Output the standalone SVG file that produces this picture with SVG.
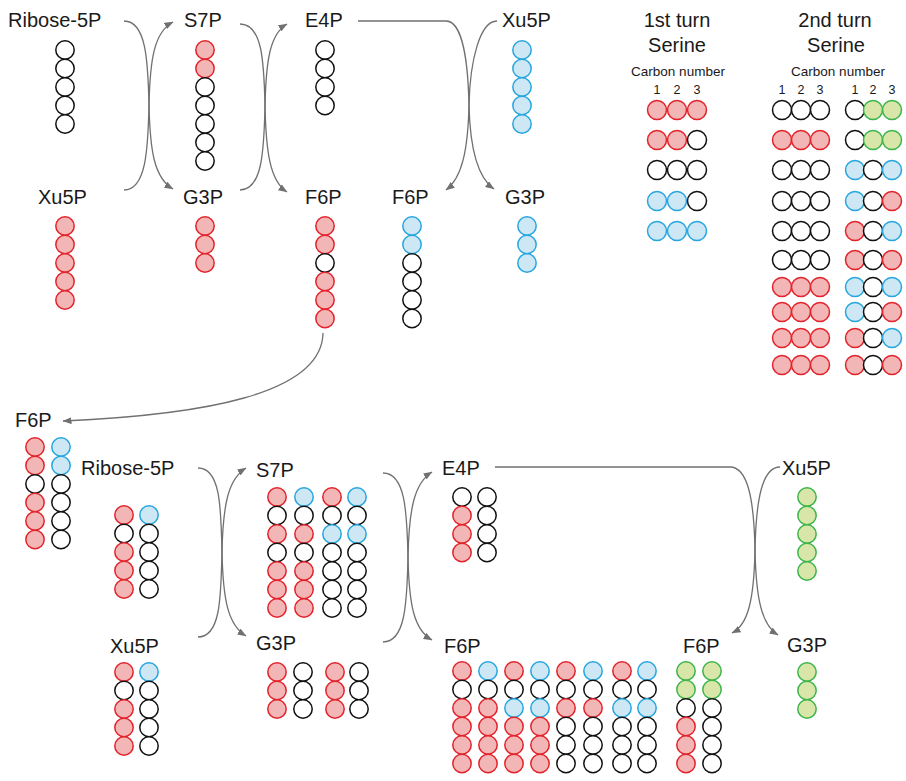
<svg xmlns="http://www.w3.org/2000/svg" xmlns:xlink="http://www.w3.org/1999/xlink" width="906" height="781" viewBox="0 0 906 781">
  <defs>
    <style>
      text { font-family: "Liberation Sans", Arial, sans-serif; fill: #1a1a1a; }
      .lbl { font-size: 20px; }
      .ttl { font-size: 20px; text-anchor: middle; }
      .sub { font-size: 13.5px; text-anchor: middle; }
      .num { font-size: 12.5px; text-anchor: middle; }
      circle { stroke-width: 1.5; }
      .w { fill: #ffffff; stroke: #111111; }
      .r { fill: #f3b6b6; stroke: #e3232b; }
      .b { fill: #cde8f4; stroke: #27a6df; }
      .g { fill: #d8e6a9; stroke: #3db54a; }
      .arr { fill: none; stroke: #707070; stroke-width: 1.3; marker-end: url(#head); }
    </style>
    <marker id="head" viewBox="0 0 9 7" refX="8.5" refY="3.5" markerWidth="9" markerHeight="7" markerUnits="userSpaceOnUse" orient="auto">
      <path d="M0,0 L9,3.5 L0,7 z" fill="#707070"/>
    </marker>
  </defs>
  <rect width="906" height="781" fill="#ffffff"/>

  <!-- reaction arrows -->
  <g id="connectors">
    <!-- first turn: Ribose-5P + Xu5P -> S7P + G3P -->
    <path class="arr" d="M124,21 C146,21 148,60 149,105 C150,150 154,178 173,189"/>
    <path class="arr" d="M124,190 C146,190 148,150 149,105 C150,60 154,32 173,22"/>
    <!-- S7P + G3P -> E4P + F6P -->
    <path class="arr" d="M240,24 C262,24 264,60 265,106 C266,152 270,181 287,192"/>
    <path class="arr" d="M240,190 C262,190 264,152 265,106 C266,60 270,34 287,24"/>
    <!-- E4P + Xu5P -> F6P + G3P -->
    <path class="arr" d="M358,21 H446 C462,21 468,60 469,105 C470,150 478,178 494,189"/>
    <path class="arr" d="M497,21 C480,21 470,60 469,105 C468,150 462,178 446,190"/>
    <!-- F6P recycled to second turn -->
    <path class="arr" d="M323,333 C322,395 200,415 63,421"/>
    <!-- second turn -->
    <path class="arr" d="M198,468 C220,468 221,505 222,552 C223,600 228,625 246,636"/>
    <path class="arr" d="M198,637 C220,637 221,600 222,552 C223,505 228,479 246,468"/>
    <path class="arr" d="M383,473 C405,473 407,510 408,557 C409,605 414,630 432,640"/>
    <path class="arr" d="M383,642 C405,642 407,605 408,557 C409,510 414,483 432,472"/>
    <path class="arr" d="M495,467 H730 C748,467 754,500 755,550 C756,600 762,625 778,635"/>
    <path class="arr" d="M780,467 C762,467 756,500 755,550 C754,600 748,625 732,633"/>
  </g>

  <!-- ===== first turn ===== -->
  <g id="ribose5p-a">
    <text class="lbl" x="8" y="27">Ribose-5P</text>
    <circle class="w" cx="65" cy="50" r="9.2"/>
    <circle class="w" cx="65" cy="68.5" r="9.2"/>
    <circle class="w" cx="65" cy="87" r="9.2"/>
    <circle class="w" cx="65" cy="105.5" r="9.2"/>
    <circle class="w" cx="65" cy="124" r="9.2"/>
  </g>
  <g id="s7p-a">
    <text class="lbl" x="184" y="27">S7P</text>
    <circle class="r" cx="205" cy="50" r="9.2"/>
    <circle class="r" cx="205" cy="68.5" r="9.2"/>
    <circle class="w" cx="205" cy="87" r="9.2"/>
    <circle class="w" cx="205" cy="105.5" r="9.2"/>
    <circle class="w" cx="205" cy="124" r="9.2"/>
    <circle class="w" cx="205" cy="142.5" r="9.2"/>
    <circle class="w" cx="205" cy="161" r="9.2"/>
  </g>
  <g id="e4p-a">
    <text class="lbl" x="305" y="27">E4P</text>
    <circle class="w" cx="325" cy="50" r="9.2"/>
    <circle class="w" cx="325" cy="68.5" r="9.2"/>
    <circle class="w" cx="325" cy="87" r="9.2"/>
    <circle class="w" cx="325" cy="105.5" r="9.2"/>
  </g>
  <g id="xu5p-b">
    <text class="lbl" x="502" y="27">Xu5P</text>
    <circle class="b" cx="522" cy="50" r="9.2"/>
    <circle class="b" cx="522" cy="68.5" r="9.2"/>
    <circle class="b" cx="522" cy="87" r="9.2"/>
    <circle class="b" cx="522" cy="105.5" r="9.2"/>
    <circle class="b" cx="522" cy="124" r="9.2"/>
  </g>
  <g id="xu5p-a">
    <text class="lbl" x="38" y="204">Xu5P</text>
    <circle class="r" cx="65" cy="226" r="9.2"/>
    <circle class="r" cx="65" cy="244.5" r="9.2"/>
    <circle class="r" cx="65" cy="263" r="9.2"/>
    <circle class="r" cx="65" cy="281.5" r="9.2"/>
    <circle class="r" cx="65" cy="300" r="9.2"/>
  </g>
  <g id="g3p-a">
    <text class="lbl" x="183" y="204">G3P</text>
    <circle class="r" cx="205" cy="226" r="9.2"/>
    <circle class="r" cx="205" cy="244.5" r="9.2"/>
    <circle class="r" cx="205" cy="263" r="9.2"/>
  </g>
  <g id="f6p-a">
    <text class="lbl" x="305" y="204">F6P</text>
    <circle class="r" cx="325" cy="226" r="9.2"/>
    <circle class="r" cx="325" cy="244.5" r="9.2"/>
    <circle class="w" cx="325" cy="263" r="9.2"/>
    <circle class="r" cx="325" cy="281.5" r="9.2"/>
    <circle class="r" cx="325" cy="300" r="9.2"/>
    <circle class="r" cx="325" cy="318.5" r="9.2"/>
  </g>
  <g id="f6p-b">
    <text class="lbl" x="392" y="204">F6P</text>
    <circle class="b" cx="412" cy="226" r="9.2"/>
    <circle class="b" cx="412" cy="244.5" r="9.2"/>
    <circle class="w" cx="412" cy="263" r="9.2"/>
    <circle class="w" cx="412" cy="281.5" r="9.2"/>
    <circle class="w" cx="412" cy="300" r="9.2"/>
    <circle class="w" cx="412" cy="318.5" r="9.2"/>
  </g>
  <g id="g3p-b">
    <text class="lbl" x="505" y="204">G3P</text>
    <circle class="b" cx="527" cy="226" r="9.2"/>
    <circle class="b" cx="527" cy="244.5" r="9.2"/>
    <circle class="b" cx="527" cy="263" r="9.2"/>
  </g>

  <!-- ===== serine labelling tables ===== -->
  <g id="serine-turn1">
    <text class="ttl" x="677" y="27">1st turn</text>
    <text class="ttl" x="677" y="52">Serine</text>
    <text class="sub" x="678" y="76">Carbon number</text>
    <text class="num" x="657" y="94">1</text>
    <text class="num" x="677" y="94">2</text>
    <text class="num" x="697" y="94">3</text>
    <circle class="r" cx="657" cy="110" r="9.5"/><circle class="r" cx="677" cy="110" r="9.5"/><circle class="r" cx="697" cy="110" r="9.5"/>
    <circle class="r" cx="657" cy="140" r="9.5"/><circle class="r" cx="677" cy="140" r="9.5"/><circle class="w" cx="697" cy="140" r="9.5"/>
    <circle class="w" cx="657" cy="170" r="9.5"/><circle class="w" cx="677" cy="170" r="9.5"/><circle class="w" cx="697" cy="170" r="9.5"/>
    <circle class="b" cx="657" cy="201" r="9.5"/><circle class="b" cx="677" cy="201" r="9.5"/><circle class="w" cx="697" cy="201" r="9.5"/>
    <circle class="b" cx="657" cy="231" r="9.5"/><circle class="b" cx="677" cy="231" r="9.5"/><circle class="b" cx="697" cy="231" r="9.5"/>
  </g>
  <g id="serine-turn2">
    <text class="ttl" x="835" y="27">2nd turn</text>
    <text class="ttl" x="836" y="52">Serine</text>
    <text class="sub" x="838" y="76">Carbon number</text>
    <text class="num" x="782" y="94">1</text>
    <text class="num" x="801" y="94">2</text>
    <text class="num" x="820" y="94">3</text>
    <text class="num" x="855" y="94">1</text>
    <text class="num" x="873" y="94">2</text>
    <text class="num" x="892" y="94">3</text>
    <!-- left block -->
    <circle class="w" cx="782" cy="110" r="9.5"/><circle class="w" cx="801" cy="110" r="9.5"/><circle class="w" cx="820" cy="110" r="9.5"/>
    <circle class="r" cx="782" cy="140" r="9.5"/><circle class="r" cx="801" cy="140" r="9.5"/><circle class="r" cx="820" cy="140" r="9.5"/>
    <circle class="w" cx="782" cy="170" r="9.5"/><circle class="w" cx="801" cy="170" r="9.5"/><circle class="w" cx="820" cy="170" r="9.5"/>
    <circle class="w" cx="782" cy="201" r="9.5"/><circle class="w" cx="801" cy="201" r="9.5"/><circle class="w" cx="820" cy="201" r="9.5"/>
    <circle class="w" cx="782" cy="231" r="9.5"/><circle class="w" cx="801" cy="231" r="9.5"/><circle class="w" cx="820" cy="231" r="9.5"/>
    <circle class="w" cx="782" cy="260" r="9.5"/><circle class="w" cx="801" cy="260" r="9.5"/><circle class="w" cx="820" cy="260" r="9.5"/>
    <circle class="r" cx="782" cy="287" r="9.5"/><circle class="r" cx="801" cy="287" r="9.5"/><circle class="r" cx="820" cy="287" r="9.5"/>
    <circle class="r" cx="782" cy="312" r="9.5"/><circle class="r" cx="801" cy="312" r="9.5"/><circle class="r" cx="820" cy="312" r="9.5"/>
    <circle class="r" cx="782" cy="338" r="9.5"/><circle class="r" cx="801" cy="338" r="9.5"/><circle class="r" cx="820" cy="338" r="9.5"/>
    <circle class="r" cx="782" cy="365" r="9.5"/><circle class="r" cx="801" cy="365" r="9.5"/><circle class="r" cx="820" cy="365" r="9.5"/>
    <!-- right block -->
    <circle class="w" cx="855" cy="110" r="9.5"/><circle class="g" cx="873" cy="110" r="9.5"/><circle class="g" cx="892" cy="110" r="9.5"/>
    <circle class="w" cx="855" cy="140" r="9.5"/><circle class="g" cx="873" cy="140" r="9.5"/><circle class="g" cx="892" cy="140" r="9.5"/>
    <circle class="b" cx="855" cy="170" r="9.5"/><circle class="w" cx="873" cy="170" r="9.5"/><circle class="b" cx="892" cy="170" r="9.5"/>
    <circle class="b" cx="855" cy="201" r="9.5"/><circle class="w" cx="873" cy="201" r="9.5"/><circle class="r" cx="892" cy="201" r="9.5"/>
    <circle class="r" cx="855" cy="231" r="9.5"/><circle class="w" cx="873" cy="231" r="9.5"/><circle class="b" cx="892" cy="231" r="9.5"/>
    <circle class="r" cx="855" cy="260" r="9.5"/><circle class="w" cx="873" cy="260" r="9.5"/><circle class="r" cx="892" cy="260" r="9.5"/>
    <circle class="b" cx="855" cy="287" r="9.5"/><circle class="w" cx="873" cy="287" r="9.5"/><circle class="b" cx="892" cy="287" r="9.5"/>
    <circle class="b" cx="855" cy="312" r="9.5"/><circle class="w" cx="873" cy="312" r="9.5"/><circle class="r" cx="892" cy="312" r="9.5"/>
    <circle class="r" cx="855" cy="338" r="9.5"/><circle class="w" cx="873" cy="338" r="9.5"/><circle class="b" cx="892" cy="338" r="9.5"/>
    <circle class="r" cx="855" cy="365" r="9.5"/><circle class="w" cx="873" cy="365" r="9.5"/><circle class="r" cx="892" cy="365" r="9.5"/>
  </g>

  <!-- ===== second turn ===== -->
  <g id="f6p-c">
    <text class="lbl" x="15" y="427">F6P</text>
    <circle class="r" cx="35" cy="447" r="9.2"/>
    <circle class="r" cx="35" cy="465.5" r="9.2"/>
    <circle class="w" cx="35" cy="484" r="9.2"/>
    <circle class="r" cx="35" cy="502.5" r="9.2"/>
    <circle class="r" cx="35" cy="521" r="9.2"/>
    <circle class="r" cx="35" cy="539.5" r="9.2"/>
    <circle class="b" cx="61" cy="447" r="9.2"/>
    <circle class="b" cx="61" cy="465.5" r="9.2"/>
    <circle class="w" cx="61" cy="484" r="9.2"/>
    <circle class="w" cx="61" cy="502.5" r="9.2"/>
    <circle class="w" cx="61" cy="521" r="9.2"/>
    <circle class="w" cx="61" cy="539.5" r="9.2"/>
  </g>
  <g id="ribose5p-b">
    <text class="lbl" x="81" y="475">Ribose-5P</text>
    <circle class="r" cx="124" cy="515" r="9.2"/>
    <circle class="w" cx="124" cy="533.5" r="9.2"/>
    <circle class="r" cx="124" cy="552" r="9.2"/>
    <circle class="r" cx="124" cy="570.5" r="9.2"/>
    <circle class="r" cx="124" cy="589" r="9.2"/>
    <circle class="b" cx="149" cy="515" r="9.2"/>
    <circle class="w" cx="149" cy="533.5" r="9.2"/>
    <circle class="w" cx="149" cy="552" r="9.2"/>
    <circle class="w" cx="149" cy="570.5" r="9.2"/>
    <circle class="w" cx="149" cy="589" r="9.2"/>
  </g>
  <g id="xu5p-c">
    <text class="lbl" x="110" y="653">Xu5P</text>
    <circle class="r" cx="124" cy="672" r="9.2"/>
    <circle class="w" cx="124" cy="690.5" r="9.2"/>
    <circle class="r" cx="124" cy="709" r="9.2"/>
    <circle class="r" cx="124" cy="727.5" r="9.2"/>
    <circle class="r" cx="124" cy="746" r="9.2"/>
    <circle class="b" cx="149" cy="672" r="9.2"/>
    <circle class="w" cx="149" cy="690.5" r="9.2"/>
    <circle class="w" cx="149" cy="709" r="9.2"/>
    <circle class="w" cx="149" cy="727.5" r="9.2"/>
    <circle class="w" cx="149" cy="746" r="9.2"/>
  </g>
  <g id="s7p-b">
    <text class="lbl" x="256" y="477">S7P</text>
    <circle class="r" cx="277" cy="497" r="9.2"/>
    <circle class="w" cx="277" cy="515.5" r="9.2"/>
    <circle class="r" cx="277" cy="534" r="9.2"/>
    <circle class="w" cx="277" cy="552.5" r="9.2"/>
    <circle class="r" cx="277" cy="571" r="9.2"/>
    <circle class="r" cx="277" cy="589.5" r="9.2"/>
    <circle class="r" cx="277" cy="608" r="9.2"/>
    <circle class="b" cx="304" cy="497" r="9.2"/>
    <circle class="w" cx="304" cy="515.5" r="9.2"/>
    <circle class="r" cx="304" cy="534" r="9.2"/>
    <circle class="w" cx="304" cy="552.5" r="9.2"/>
    <circle class="r" cx="304" cy="571" r="9.2"/>
    <circle class="r" cx="304" cy="589.5" r="9.2"/>
    <circle class="r" cx="304" cy="608" r="9.2"/>
    <circle class="r" cx="332" cy="497" r="9.2"/>
    <circle class="w" cx="332" cy="515.5" r="9.2"/>
    <circle class="b" cx="332" cy="534" r="9.2"/>
    <circle class="w" cx="332" cy="552.5" r="9.2"/>
    <circle class="w" cx="332" cy="571" r="9.2"/>
    <circle class="w" cx="332" cy="589.5" r="9.2"/>
    <circle class="w" cx="332" cy="608" r="9.2"/>
    <circle class="b" cx="357" cy="497" r="9.2"/>
    <circle class="w" cx="357" cy="515.5" r="9.2"/>
    <circle class="b" cx="357" cy="534" r="9.2"/>
    <circle class="w" cx="357" cy="552.5" r="9.2"/>
    <circle class="w" cx="357" cy="571" r="9.2"/>
    <circle class="w" cx="357" cy="589.5" r="9.2"/>
    <circle class="w" cx="357" cy="608" r="9.2"/>
  </g>
  <g id="g3p-c">
    <text class="lbl" x="256" y="650">G3P</text>
    <circle class="r" cx="277" cy="672" r="9.2"/>
    <circle class="r" cx="277" cy="690.5" r="9.2"/>
    <circle class="r" cx="277" cy="709" r="9.2"/>
    <circle class="w" cx="303" cy="672" r="9.2"/>
    <circle class="w" cx="303" cy="690.5" r="9.2"/>
    <circle class="w" cx="303" cy="709" r="9.2"/>
    <circle class="r" cx="335" cy="672" r="9.2"/>
    <circle class="r" cx="335" cy="690.5" r="9.2"/>
    <circle class="r" cx="335" cy="709" r="9.2"/>
    <circle class="w" cx="359" cy="672" r="9.2"/>
    <circle class="w" cx="359" cy="690.5" r="9.2"/>
    <circle class="w" cx="359" cy="709" r="9.2"/>
  </g>
  <g id="e4p-b">
    <text class="lbl" x="442" y="475">E4P</text>
    <circle class="w" cx="462" cy="497" r="9.2"/>
    <circle class="r" cx="462" cy="515.5" r="9.2"/>
    <circle class="r" cx="462" cy="534" r="9.2"/>
    <circle class="r" cx="462" cy="552.5" r="9.2"/>
    <circle class="w" cx="487" cy="497" r="9.2"/>
    <circle class="w" cx="487" cy="515.5" r="9.2"/>
    <circle class="w" cx="487" cy="534" r="9.2"/>
    <circle class="w" cx="487" cy="552.5" r="9.2"/>
  </g>
  <g id="xu5p-d">
    <text class="lbl" x="782" y="475">Xu5P</text>
    <circle class="g" cx="807" cy="497" r="9.2"/>
    <circle class="g" cx="807" cy="515.5" r="9.2"/>
    <circle class="g" cx="807" cy="534" r="9.2"/>
    <circle class="g" cx="807" cy="552.5" r="9.2"/>
    <circle class="g" cx="807" cy="571" r="9.2"/>
  </g>
  <g id="f6p-d">
    <text class="lbl" x="444" y="653">F6P</text>
    <!-- columns: 1st-turn F6P pairs recombined -->
    <circle class="r" cx="462" cy="671" r="9.2"/><circle class="w" cx="462" cy="689.5" r="9.2"/><circle class="r" cx="462" cy="708" r="9.2"/><circle class="r" cx="462" cy="726.5" r="9.2"/><circle class="r" cx="462" cy="745" r="9.2"/><circle class="r" cx="462" cy="763.5" r="9.2"/>
    <circle class="b" cx="488" cy="671" r="9.2"/><circle class="w" cx="488" cy="689.5" r="9.2"/><circle class="r" cx="488" cy="708" r="9.2"/><circle class="r" cx="488" cy="726.5" r="9.2"/><circle class="r" cx="488" cy="745" r="9.2"/><circle class="r" cx="488" cy="763.5" r="9.2"/>
    <circle class="r" cx="514" cy="671" r="9.2"/><circle class="w" cx="514" cy="689.5" r="9.2"/><circle class="b" cx="514" cy="708" r="9.2"/><circle class="r" cx="514" cy="726.5" r="9.2"/><circle class="r" cx="514" cy="745" r="9.2"/><circle class="r" cx="514" cy="763.5" r="9.2"/>
    <circle class="b" cx="540" cy="671" r="9.2"/><circle class="w" cx="540" cy="689.5" r="9.2"/><circle class="b" cx="540" cy="708" r="9.2"/><circle class="r" cx="540" cy="726.5" r="9.2"/><circle class="r" cx="540" cy="745" r="9.2"/><circle class="r" cx="540" cy="763.5" r="9.2"/>
    <circle class="r" cx="566" cy="671" r="9.2"/><circle class="w" cx="566" cy="689.5" r="9.2"/><circle class="r" cx="566" cy="708" r="9.2"/><circle class="w" cx="566" cy="726.5" r="9.2"/><circle class="w" cx="566" cy="745" r="9.2"/><circle class="w" cx="566" cy="763.5" r="9.2"/>
    <circle class="b" cx="593" cy="671" r="9.2"/><circle class="w" cx="593" cy="689.5" r="9.2"/><circle class="r" cx="593" cy="708" r="9.2"/><circle class="w" cx="593" cy="726.5" r="9.2"/><circle class="w" cx="593" cy="745" r="9.2"/><circle class="w" cx="593" cy="763.5" r="9.2"/>
    <circle class="r" cx="622" cy="671" r="9.2"/><circle class="w" cx="622" cy="689.5" r="9.2"/><circle class="b" cx="622" cy="708" r="9.2"/><circle class="w" cx="622" cy="726.5" r="9.2"/><circle class="w" cx="622" cy="745" r="9.2"/><circle class="w" cx="622" cy="763.5" r="9.2"/>
    <circle class="b" cx="647" cy="671" r="9.2"/><circle class="w" cx="647" cy="689.5" r="9.2"/><circle class="b" cx="647" cy="708" r="9.2"/><circle class="w" cx="647" cy="726.5" r="9.2"/><circle class="w" cx="647" cy="745" r="9.2"/><circle class="w" cx="647" cy="763.5" r="9.2"/>
  </g>
  <g id="f6p-e">
    <text class="lbl" x="683" y="653">F6P</text>
    <circle class="g" cx="686" cy="671" r="9.2"/><circle class="g" cx="686" cy="689.5" r="9.2"/><circle class="w" cx="686" cy="708" r="9.2"/><circle class="r" cx="686" cy="726.5" r="9.2"/><circle class="r" cx="686" cy="745" r="9.2"/><circle class="r" cx="686" cy="763.5" r="9.2"/>
    <circle class="g" cx="712" cy="671" r="9.2"/><circle class="g" cx="712" cy="689.5" r="9.2"/><circle class="w" cx="712" cy="708" r="9.2"/><circle class="w" cx="712" cy="726.5" r="9.2"/><circle class="w" cx="712" cy="745" r="9.2"/><circle class="w" cx="712" cy="763.5" r="9.2"/>
  </g>
  <g id="g3p-d">
    <text class="lbl" x="787" y="652">G3P</text>
    <circle class="g" cx="807" cy="672" r="9.2"/>
    <circle class="g" cx="807" cy="690.5" r="9.2"/>
    <circle class="g" cx="807" cy="709" r="9.2"/>
  </g>
</svg>
